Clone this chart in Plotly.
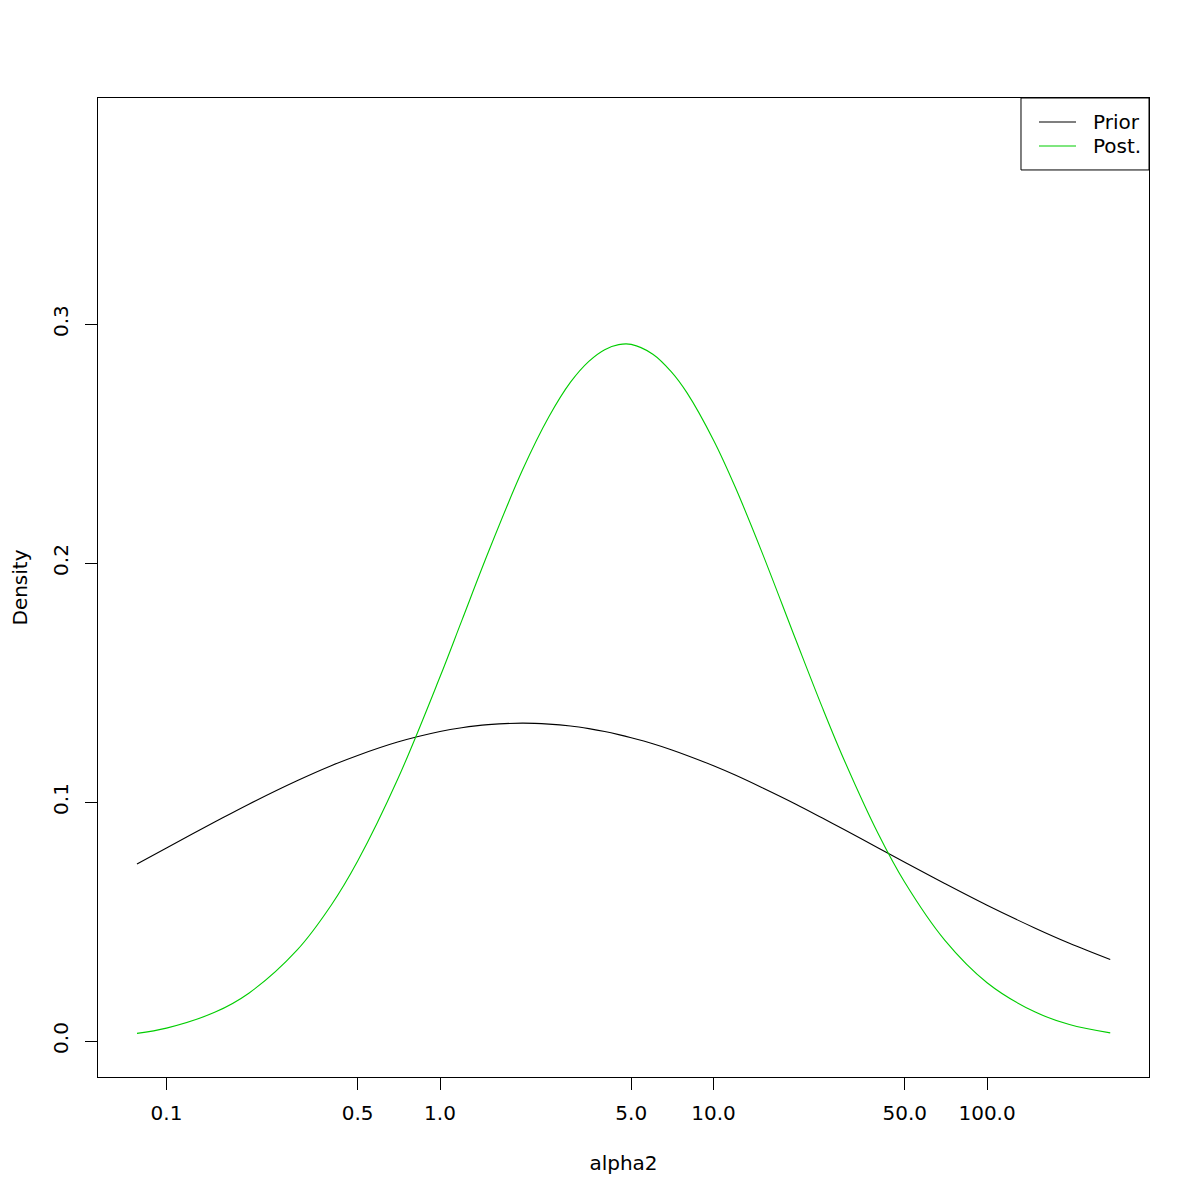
import plotly.graph_objects as go

alpha2 = [0.078, 0.1, 0.15, 0.2, 0.3, 0.4, 0.5, 0.7, 1.0, 1.2, 1.5, 2, 2.5, 3, 3.5,
          4, 4.5, 5, 6, 7, 8, 10, 12, 15, 20, 25, 30, 40, 50, 70, 100, 150, 200, 282]
prior = [0.0741, 0.0808, 0.0916, 0.0991, 0.1089, 0.1152, 0.1195, 0.1251, 0.1295,
         0.1311, 0.1324, 0.1330, 0.1326, 0.1318, 0.1307, 0.1295, 0.1282, 0.1269,
         0.1244, 0.1219, 0.1195, 0.1152, 0.1113, 0.1061, 0.0991, 0.0933, 0.0885,
         0.0808, 0.0748, 0.0659, 0.0568, 0.0472, 0.0409, 0.0341]
post = [0.0032, 0.0054, 0.0120, 0.0200, 0.0380, 0.0568, 0.0753, 0.1095, 0.1524,
        0.1758, 0.2044, 0.2388, 0.2612, 0.2757, 0.2844, 0.2893, 0.2914, 0.2915,
        0.2874, 0.2801, 0.2712, 0.2514, 0.2318, 0.2048, 0.1678, 0.1395, 0.1177,
        0.0867, 0.0664, 0.0422, 0.0244, 0.0121, 0.0069, 0.0034]

xticks = [0.1, 0.5, 1.0, 5.0, 10.0, 50.0, 100.0]
xticklabels = ["0.1", "0.5", "1.0", "5.0", "10.0", "50.0", "100.0"]
yticks = [0.0, 0.1, 0.2, 0.3]
yticklabels = ["0.0", "0.1", "0.2", "0.3"]

series_names = ["Prior", "Post."]
series_colors = ["black", "#00CD00"]

FONT = "DejaVu Sans"
FS = 20

fig = go.Figure()
for name, ys, col in zip(series_names, [prior, post], series_colors):
    fig.add_trace(go.Scatter(x=alpha2, y=ys, mode="lines", name=name,
                             showlegend=False,
                             line=dict(color=col, width=1.1, shape="spline")))

# R-style legend box (top-right, touching the plot frame)
fig.add_shape(type="rect", xref="paper", yref="paper",
              x0=0.8782, x1=1.0, y0=0.9265, y1=1.0,
              line=dict(color="black", width=1), fillcolor="white", layer="above")
legend_y = [0.9755, 0.9510]
for name, col, yy in zip(series_names, series_colors, legend_y):
    fig.add_shape(type="line", xref="paper", yref="paper",
                  x0=0.8953, x1=0.9306, y0=yy, y1=yy,
                  line=dict(color=col, width=1.1), layer="above")
    fig.add_annotation(xref="paper", yref="paper", x=0.9448, y=yy,
                       text=name, showarrow=False, xanchor="left", yanchor="middle",
                       font=dict(family=FONT, size=FS, color="black"))

fig.update_layout(
    width=1200, height=1200,
    margin=dict(l=90, r=59, t=90, b=131),
    paper_bgcolor="white", plot_bgcolor="white",
    font=dict(family=FONT, size=FS, color="black"),
    xaxis=dict(type="log", range=[-1.2504, 2.592], automargin=False,
               tickvals=xticks, ticktext=xticklabels,
               ticks="outside", ticklen=12, tickcolor="black",
               ticklabelstandoff=6,
               showline=True, linecolor="black", linewidth=1, mirror=True,
               showgrid=False, zeroline=False,
               title=dict(text="alpha2", standoff=31, font=dict(size=FS))),
    yaxis=dict(range=[-0.01506, 0.3946], automargin=False,
               tickvals=yticks, ticktext=yticklabels, tickangle=-90,
               ticks="outside", ticklen=12, tickcolor="black",
               ticklabelstandoff=9,
               showline=True, linecolor="black", linewidth=1, mirror=True,
               showgrid=False, zeroline=False,
               title=dict(text="Density", standoff=24, font=dict(size=FS))),
)

fig.write_html("out.html")
